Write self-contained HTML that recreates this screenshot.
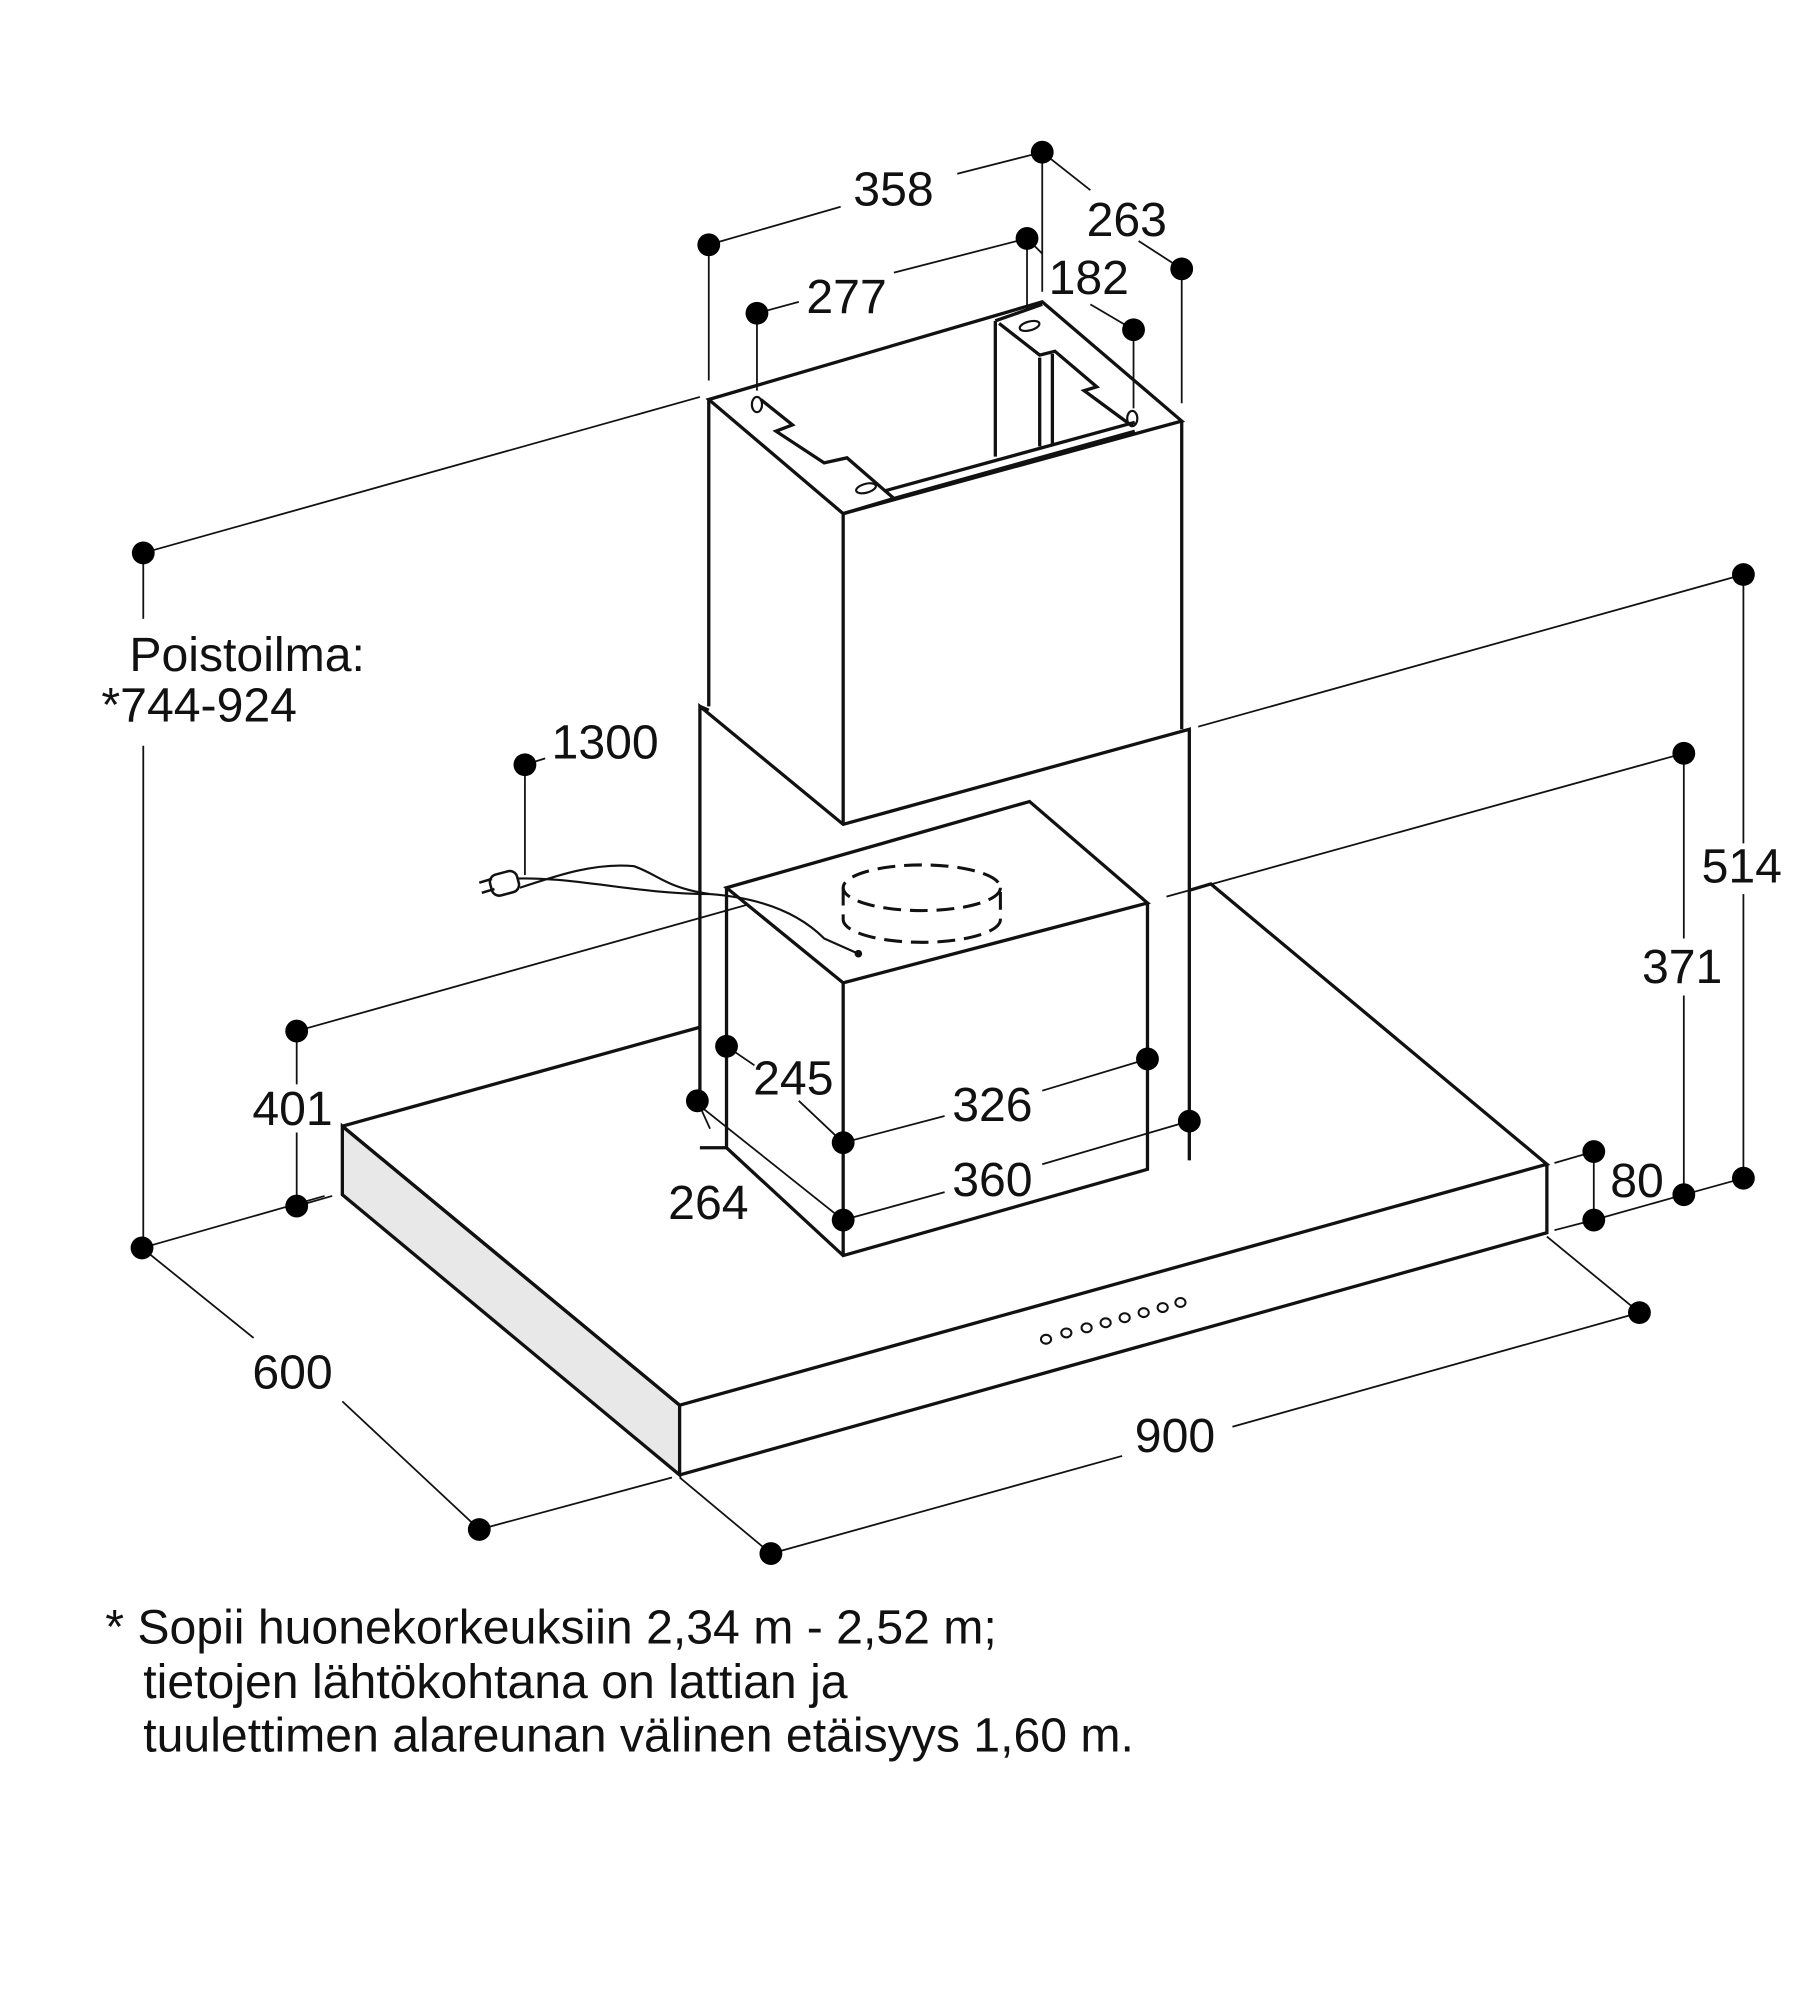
<!DOCTYPE html>
<html><head><meta charset="utf-8"><style>
html,body{margin:0;padding:0;background:#fff}
svg{display:block}
text{font-family:"Liberation Sans",sans-serif;font-size:38px;fill:#111}
</style></head><body>
<svg width="1803" height="2000" viewBox="0 0 1422 1577" preserveAspectRatio="none" xmlns="http://www.w3.org/2000/svg">
<g stroke="#111" stroke-width="1.4" fill="none">
<line x1="559" y1="193" x2="663" y2="163"/><line x1="755" y1="137" x2="822" y2="120"/>
<line x1="822" y1="120" x2="860" y2="150"/><line x1="898" y1="190" x2="932" y2="212"/>
<line x1="810" y1="188" x2="822" y2="200"/>
<line x1="597" y1="247" x2="630" y2="238"/><line x1="705" y1="215" x2="810" y2="188"/>
<line x1="860" y1="240" x2="894" y2="260"/>
<line x1="559" y1="193" x2="559" y2="300"/><line x1="822" y1="120" x2="822" y2="230"/>
<line x1="810" y1="188" x2="810" y2="245"/><line x1="932" y1="212" x2="932" y2="318"/>
<line x1="597" y1="247" x2="597" y2="308"/><line x1="894" y1="260" x2="894" y2="322"/>
<line x1="113" y1="436" x2="552" y2="313"/>
<line x1="113" y1="436" x2="113" y2="488"/><line x1="113" y1="588" x2="113" y2="984"/>
<line x1="1375" y1="453" x2="945" y2="573"/><line x1="1375" y1="453" x2="1375" y2="665"/><line x1="1375" y1="705" x2="1375" y2="929"/>
<line x1="1328" y1="594" x2="920" y2="707"/><line x1="1328" y1="594" x2="1328" y2="740"/><line x1="1328" y1="785" x2="1328" y2="942"/>
<line x1="234" y1="813" x2="662" y2="693"/><line x1="234" y1="813" x2="234" y2="855"/><line x1="234" y1="893" x2="234" y2="951"/>
<line x1="234" y1="951" x2="262" y2="943"/>
<line x1="112" y1="984" x2="256" y2="943"/>
<line x1="1375" y1="929" x2="1328" y2="942"/><line x1="1328" y1="942" x2="1257" y2="962"/>
<line x1="1257" y1="908" x2="1257" y2="962"/><line x1="1257" y1="908" x2="1226" y2="917"/><line x1="1257" y1="962" x2="1226" y2="970"/>
<line x1="112" y1="984" x2="200" y2="1055"/><line x1="270" y1="1105" x2="378" y2="1206"/>
<line x1="378" y1="1206" x2="530" y2="1165"/>
<line x1="536" y1="1165" x2="608" y2="1225"/><line x1="608" y1="1225" x2="885" y2="1148"/><line x1="972" y1="1125" x2="1293" y2="1035"/>
<line x1="1220" y1="975" x2="1293" y2="1035"/>
<line x1="414" y1="603" x2="430" y2="598"/><line x1="414" y1="603" x2="414" y2="690"/>
<line x1="573" y1="825" x2="595" y2="840"/><line x1="630" y1="868" x2="665" y2="901"/>
<line x1="665" y1="901" x2="745" y2="880"/><line x1="822" y1="860" x2="905" y2="835"/>
<line x1="550" y1="868" x2="560" y2="890"/><line x1="552" y1="872" x2="665" y2="962"/>
<line x1="665" y1="962" x2="745" y2="940"/><line x1="822" y1="918" x2="938" y2="884"/>
</g>
<g stroke="#111" stroke-width="2.6" fill="none" stroke-linejoin="miter">
<path d="M270,888 L270,942 L536,1163 L536,1108 Z" fill="#e8e8e8"/>
<path d="M270,888 L536,1108 L1220,918 L955,697 L938,702"/>
<path d="M270,888 L552,810"/>
<path d="M536,1163 L1220,972 L1220,918"/>
<path d="M552,868 L552,557 L665,650 L938,575 L938,915"/>
<path d="M552,557 L559,560"/>
<path d="M573,700 L665,775 L905,712 L812,632 Z" fill="#fff"/>
<path d="M573,700 L573,905 L665,990 L905,922 L905,712"/>
<path d="M665,775 L665,990"/>
<path d="M552,905 L573,905"/>
<path d="M559,315 L559,557 M665,405 L665,650 M932,332 L932,575" />
<path d="M559,315 L665,405 L932,332 L822,238 Z"/>
<path d="M600,315 L625,335 L612,340 L650,365 L668,361 L705,393 L665,405"/>
<path d="M705,393 L895,340"/>
<path d="M785,253 L785,360 M785,253 L822,240"/>
<path d="M788,255 L820,280 L832,277 L865,305 L855,308 L893,336"/>
<path d="M820,282 L820,352 M830,279 L830,350"/>
<path d="M698,387 L895,333"/>
</g>
<g stroke="#111" stroke-width="1.7" fill="none">
<ellipse cx="597" cy="319" rx="4" ry="6"/>
<ellipse cx="893" cy="330" rx="4" ry="6"/>
<ellipse cx="683" cy="385" rx="8" ry="3.5" transform="rotate(-15 683 385)"/>
<ellipse cx="812" cy="257" rx="8" ry="3.5" transform="rotate(-15 812 257)"/>
<ellipse cx="727" cy="700" rx="62" ry="18" stroke-dasharray="14 7" stroke-width="2.4"/>
<path d="M665,700 L665,725 A62,18 0 0 0 789,725 L789,700" stroke-dasharray="14 7" stroke-width="2.4"/>
<path d="M410,700 C440,690 470,680 500,683 C520,690 525,700 560,705 C600,708 630,720 650,740 L677,752"/>
<path d="M400,693 C450,690 500,705 560,705"/>
<g stroke-width="1.6">
<ellipse cx="825" cy="1056" rx="4" ry="3.5"/><ellipse cx="841" cy="1051" rx="4" ry="3.5"/><ellipse cx="857" cy="1047" rx="4" ry="3.5"/><ellipse cx="872" cy="1043" rx="4" ry="3.5"/><ellipse cx="887" cy="1039" rx="4" ry="3.5"/><ellipse cx="902" cy="1035" rx="4" ry="3.5"/><ellipse cx="917" cy="1031" rx="4" ry="3.5"/><ellipse cx="931" cy="1027" rx="4" ry="3.5"/>
</g>
</g>
<g fill="#fff" stroke="#111" stroke-width="2">
<rect x="387" y="688" width="22" height="17" rx="6" transform="rotate(-15 398 697)"/>
<line x1="378" y1="696" x2="388" y2="693"/><line x1="380" y1="704" x2="390" y2="701"/>
</g>
<circle cx="677" cy="752" r="3" fill="#111"/>
<g fill="#000">
<circle cx="822" cy="120" r="9"/><circle cx="559" cy="193" r="9"/><circle cx="810" cy="188" r="9"/><circle cx="932" cy="212" r="9"/>
<circle cx="597" cy="247" r="9"/><circle cx="894" cy="260" r="9"/><circle cx="113" cy="436" r="9"/><circle cx="1375" cy="453" r="9"/>
<circle cx="414" cy="603" r="9"/><circle cx="1328" cy="594" r="9"/><circle cx="234" cy="813" r="9"/><circle cx="573" cy="825" r="9"/>
<circle cx="905" cy="835" r="9"/><circle cx="550" cy="868" r="9"/><circle cx="938" cy="884" r="9"/><circle cx="665" cy="901" r="9"/>
<circle cx="1257" cy="908" r="9"/><circle cx="234" cy="951" r="9"/><circle cx="665" cy="962" r="9"/><circle cx="1257" cy="962" r="9"/>
<circle cx="1328" cy="942" r="9"/><circle cx="1375" cy="929" r="9"/><circle cx="112" cy="984" r="9"/><circle cx="1293" cy="1035" r="9"/>
<circle cx="378" cy="1206" r="9"/><circle cx="608" cy="1225" r="9"/>
</g>
<text x="673" y="162">358</text>
<text x="857" y="186">263</text>
<text x="827" y="232">182</text>
<text x="636" y="247">277</text>
<text x="102" y="529">Poistoilma:</text>
<text x="80" y="569">*744-924</text>
<text x="435" y="598">1300</text>
<text x="1342" y="696">514</text>
<text x="1295" y="775">371</text>
<text x="199" y="887">401</text>
<text x="594" y="863">245</text>
<text x="751" y="884">326</text>
<text x="751" y="943">360</text>
<text x="527" y="961">264</text>
<text x="1270" y="944">80</text>
<text x="199" y="1095">600</text>
<text x="895" y="1145">900</text>
<text x="83" y="1296">* Sopii huonekorkeuksiin 2,34 m - 2,52 m;</text>
<text x="113" y="1339">tietojen lähtökohtana on lattian ja</text>
<text x="113" y="1381">tuulettimen alareunan välinen etäisyys 1,60 m.</text>
</svg>
</body></html>
